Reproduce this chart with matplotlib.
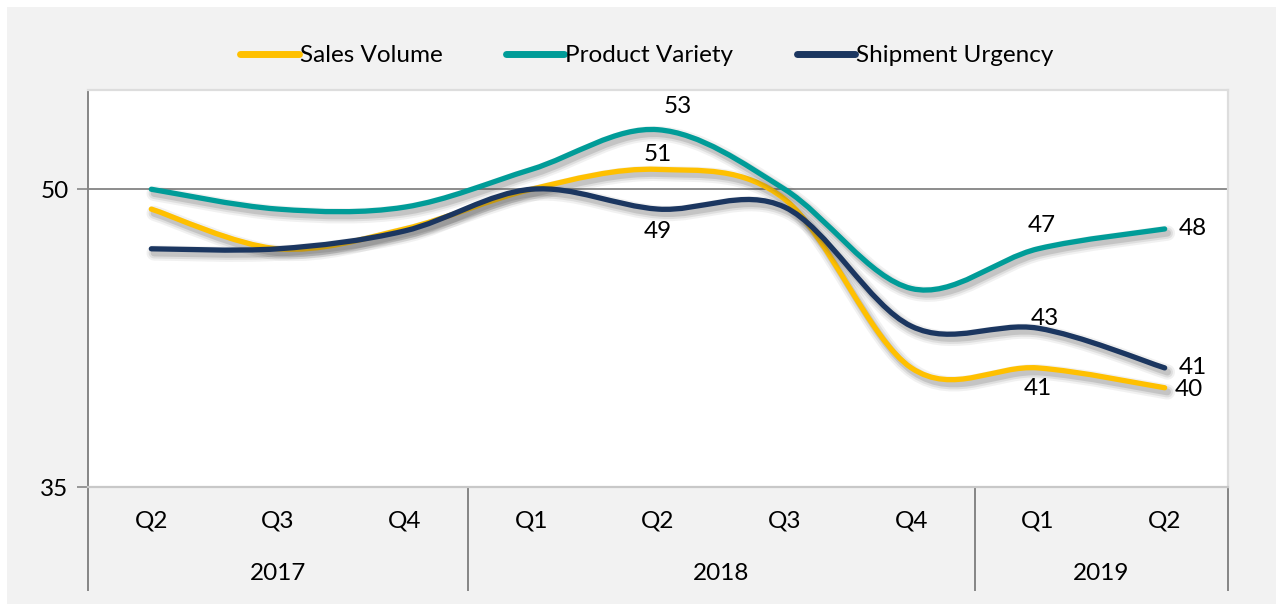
import numpy as np
import matplotlib.pyplot as plt
from matplotlib.path import Path
from matplotlib.patches import PathPatch
from matplotlib.lines import Line2D
import matplotlib.patheffects as pe
import matplotlib.transforms as mtransforms

plt.rcParams['font.family'] = ['Lato', 'DejaVu Sans']

quarters = ["Q2", "Q3", "Q4", "Q1", "Q2", "Q3", "Q4", "Q1", "Q2"]
years = ["2017", "2018", "2019"]
year_counts = [3, 4, 2]

sales = [49.0, 47.0, 48.0, 50.0, 51.0, 49.5, 41.0, 41.0, 40.0]
variety = [50.0, 49.0, 49.1, 51.0, 53.0, 50.0, 45.0, 47.0, 48.0]
urgency = [47.0, 47.0, 47.9, 50.0, 49.0, 49.1, 43.1, 43.0, 41.0]

names = ["Sales Volume", "Product Variety", "Shipment Urgency"]
colors = ["#FFC000", "#009C98", "#1B3660"]

# which points get a label and where: (index, offset in points)
sales_lbl = [(4, (0, 11), "center"), (7, (0, -15), "center"), (8, (7, -1.5), "left")]
variety_lbl = [(4, (14, 17), "center"), (7, (3, 17), "center"), (8, (10, 0), "left")]
urgency_lbl = [(4, (0, -16), "center"), (7, (5, 7), "center"), (8, (10, 0.5), "left")]


def smooth_path(x, y):
    # excel-like smoothed line: catmull-rom as cubic bezier
    px = np.concatenate([[x[0]], x, [x[-1]]])
    py = np.concatenate([[y[0]], y, [y[-1]]])
    verts = [(x[0], y[0])]
    codes = [Path.MOVETO]
    for i in range(1, len(px) - 2):
        c1 = (px[i] + (px[i + 1] - px[i - 1]) / 6, py[i] + (py[i + 1] - py[i - 1]) / 6)
        c2 = (px[i + 1] - (px[i + 2] - px[i]) / 6, py[i + 1] - (py[i + 2] - py[i]) / 6)
        verts += [c1, c2, (px[i + 1], py[i + 1])]
        codes += [Path.CURVE4] * 3
    return Path(verts, codes)


fig = plt.figure(figsize=(12.76, 6.04), dpi=100, facecolor="white")
bg = fig.add_axes([0.0055, 0.0, 0.9945, 0.988])
bg.set_facecolor("#F2F2F2")
bg.set_xticks([])
bg.set_yticks([])
for s in bg.spines.values():
    s.set_visible(False)

ax = fig.add_axes([88 / 1276, (604 - 487) / 604, (1228 - 88) / 1276, (487 - 90) / 604])
ax.set_facecolor("white")

x = np.arange(len(quarters))
# soft shadow: a few wide faint strokes under the line
shadow = [pe.SimpleLineShadow(offset=(2, -3), shadow_color="#404040", alpha=0.07, linewidth=11),
          pe.SimpleLineShadow(offset=(2, -3), shadow_color="#404040", alpha=0.10, linewidth=8),
          pe.SimpleLineShadow(offset=(2, -3), shadow_color="#404040", alpha=0.16, linewidth=5),
          pe.Normal()]

for vals, c, lbls in zip([sales, variety, urgency], colors, [sales_lbl, variety_lbl, urgency_lbl]):
    patch = PathPatch(smooth_path(x, np.array(vals)), facecolor="none", edgecolor=c,
                      linewidth=3.8, capstyle="round", joinstyle="round", zorder=3,
                      path_effects=shadow)
    ax.add_patch(patch)
    for i, off, ha in lbls:
        ax.annotate(f"{vals[i]:.0f}", (x[i], vals[i]), xytext=off, textcoords="offset points",
                    ha=ha, va="center", fontsize=17.5, color="black", zorder=5)

ax.set_xlim(-0.5, len(quarters) - 0.5)
ax.set_ylim(35, 55)
ax.set_yticks([35, 50])
ax.set_yticklabels(["35", "50"], fontsize=17.5)
ax.tick_params(axis="y", length=8, width=1.2, color="#868686", pad=6)
ax.axhline(50, color="#8C8C8C", linewidth=1.4, zorder=1)

ax.set_xticks(x)
ax.set_xticklabels(quarters, fontsize=17.5)
ax.tick_params(axis="x", length=0, pad=17)

ax.spines["left"].set_color("#868686")
ax.spines["left"].set_linewidth(1.4)
ax.spines["bottom"].set_color("#C8C8C8")
ax.spines["bottom"].set_linewidth(1.6)
ax.spines["top"].set_color("#DDDDDD")
ax.spines["top"].set_linewidth(1.6)
ax.spines["right"].set_color("#DDDDDD")
ax.spines["right"].set_linewidth(1.6)

# year level of category axis
trans = mtransforms.blended_transform_factory(ax.transData, ax.transAxes)
edges = np.concatenate([[0], np.cumsum(year_counts)]) - 0.5
for e in edges:
    ax.plot([e, e], [0, -0.26], transform=trans, color="#868686", linewidth=1.4, clip_on=False)
for yr, a, b in zip(years, edges[:-1], edges[1:]):
    ax.text((a + b) / 2, -0.217, yr, transform=trans, ha="center", va="center", fontsize=17.5)

handles = [Line2D([], [], color=c, linewidth=5, solid_capstyle="round") for c in colors]
fig.legend(handles, names, loc="center", bbox_to_anchor=(0.507, 0.908), ncol=3, frameon=False,
           fontsize=17.5, handlelength=2.4, handletextpad=0.05, columnspacing=2.6)

fig.savefig("out.png", dpi=100, facecolor="white")
